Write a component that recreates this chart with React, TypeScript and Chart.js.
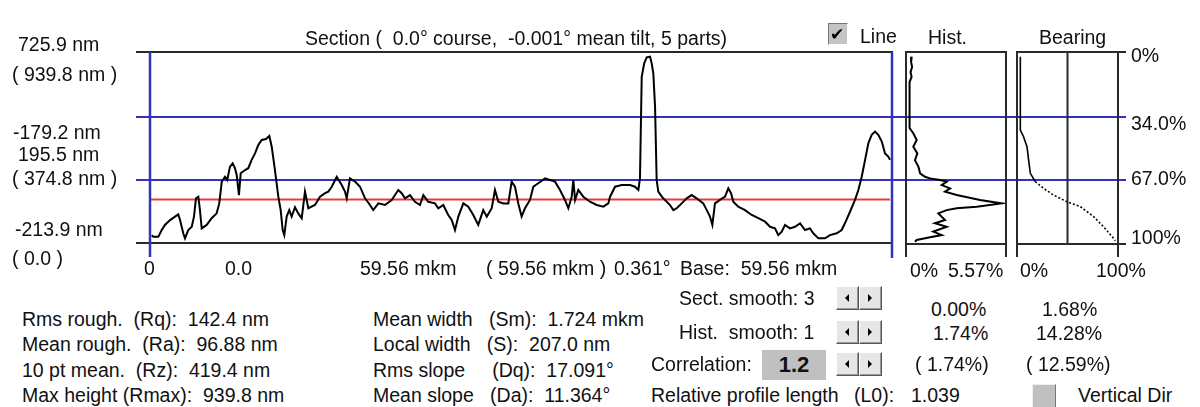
import React, { useEffect, useRef } from "react";
import { Chart, registerables } from "chart.js";
Chart.register(...registerables);

// ---------- data ----------
// profile section: position (mkm) and height (nm)
const profileX = [0.14,0.26,0.67,0.94,1.20,1.61,2.01,2.27,2.41,2.67,2.81,3.07,3.35,3.53,3.69,3.88,4.01,4.15,4.55,4.95,5.35,5.56,5.76,6.02,6.20,6.42,6.64,6.82,6.96,7.14,7.28,7.63,7.89,8.16,8.43,8.69,8.97,9.31,9.58,9.77,10.03,10.30,10.49,10.65,10.78,10.97,11.18,11.37,11.64,11.90,12.18,12.44,12.71,13.24,13.65,14.05,14.31,14.59,14.99,15.39,15.65,15.79,16.05,16.46,16.86,17.26,17.66,17.92,18.33,18.86,19.40,19.93,20.20,20.47,20.87,21.27,21.67,21.94,22.34,22.88,23.14,23.54,23.94,24.22,24.48,24.75,25.15,25.55,25.95,26.35,26.75,27.03,27.43,27.69,27.96,28.36,28.76,29.03,29.30,29.56,29.83,30.10,30.50,30.77,31.17,31.71,32.11,32.51,32.91,33.31,33.58,33.85,33.98,34.12,34.38,34.78,35.32,35.86,36.39,36.79,36.93,37.33,37.86,38.53,38.93,39.20,39.33,39.47,39.67,39.87,40.14,40.27,40.40,40.54,40.67,40.80,41.08,41.34,41.74,42.01,42.28,42.68,43.08,43.48,43.88,44.41,44.69,44.95,45.14,45.35,45.75,46.16,46.42,46.64,46.82,47.22,47.76,48.30,48.83,49.37,49.77,50.17,50.43,50.71,50.97,51.37,51.77,52.18,52.58,52.98,53.24,53.65,54.18,54.58,55.12,55.52,55.78,56.19,56.59,56.86,57.13,57.40,57.66,57.93,58.20,58.46,58.74,59.00,59.26,59.40];
const profileY = [-175,-183,-183,-150,-125,-101,-84,-73,-101,-166,-191,-150,-134,-84,6,14,-52,-142,-125,-92,-68,-19,88,112,96,162,178,154,121,22,129,145,154,195,227,268,293,298,313,260,145,14,-52,-150,-175,-84,-52,-84,-38,-68,-92,39,-43,-27,14,31,39,63,112,71,39,6,104,88,63,6,-27,-52,-19,-27,-2,47,31,6,22,-11,-27,22,-11,-19,-43,-27,-76,-101,-150,-84,-19,-35,-76,-125,-52,-84,-43,47,-11,-19,-19,88,63,-19,-84,-43,-2,63,80,104,96,88,47,-2,-43,14,96,-2,47,14,-11,-27,-35,-19,14,63,71,71,63,47,104,604,670,700,703,670,621,457,96,39,14,-2,-27,-52,-43,-19,6,22,6,-19,-52,-84,-125,-19,-2,14,55,31,-11,-35,-52,-76,-92,-109,-134,-142,-175,-158,-125,-142,-134,-117,-150,-142,-166,-191,-191,-175,-166,-150,-117,-60,-2,47,112,195,277,318,334,318,285,227,211,195];

// height histogram: height (nm) and frequency (%)
const histHeight = [703,677,652,627,603,578,352,326,293,260,227,194,162,129,112,104,96,88,71,55,39,22,-2,-19,-35,-43,-52,-68,-101,-117,-134,-158,-175,-186,-199,-208];
const histFreq = [0.19,0.15,0.21,0.12,0.18,0.06,0.06,0.28,0.48,0.28,0.52,0.38,0.58,0.68,0.97,1.27,1.86,2.25,1.96,2.45,2.15,2.84,4.22,5.50,4.02,2.84,2.25,1.76,2.15,1.56,2.25,1.46,1.96,1.27,0.48,0.38];

// bearing (Abbott) curve: height (nm) and bearing ratio (%)
const bearingHeight = [703,342,309,260,194,129,88,55,22,-11,-35,-84,-134,-191,-203];
const bearingRatio = [3.3,3.3,6.5,9.9,11.5,13.2,18.1,26.3,36.2,49.5,62.7,75.8,85.7,95.6,97.3];

const heightMin = -213.9;
const heightMax = 725.9;
const lengthMax = 59.56;
const meanLevel = 0;
const cutLevels = [34.0, 67.0]; // % depth from top
const histRange = [-0.15, 5.75];

// ---------- texts ----------
const title = "Section (  0.0° course,  -0.001° mean tilt, 5 parts)";
const leftLabels = ["725.9 nm", "( 939.8 nm )", "-179.2 nm", "195.5 nm", "( 374.8 nm )", "-213.9 nm", "( 0.0 )"];
const bottomLabels = ["0", "0.0", "59.56 mkm", "( 59.56 mkm )", "0.361°", "Base:  59.56 mkm"];
const rightLabels = ["0%", "34.0%", "67.0%", "100%"];
const histLabels = ["0%", "5.57%"];
const bearingLabels = ["0%", "100%"];
const statsCol1 = ["Rms rough.  (Rq):  142.4 nm", "Mean rough.  (Ra):  96.88 nm", "10 pt mean.  (Rz):  419.4 nm", "Max height (Rmax):  939.8 nm"];
const statsCol2 = ["Mean width   (Sm):  1.724 mkm", "Local width   (S):  207.0 nm", "Rms slope     (Dq):  17.091°", "Mean slope   (Da):  11.364°"];
const smoothLabels = ["Sect. smooth: 3", "Hist.  smooth: 1", "Correlation:"];
const correlationValue = "1.2";
const pctCol1 = ["0.00%", "1.74%", "( 1.74%)"];
const pctCol2 = ["1.68%", "14.28%", "( 12.59%)"];
const relLabel = ["Relative profile length", "(L0):", "1.039"];

const FONT = "'Liberation Sans', Arial, sans-serif";
const BLUE = "#3232b4";
const RED = "#e83c3c";
const FRAME = "#2a2a2a";
const W = 1200;
const H = 290;
const BOTTOM = 243;

function line(c: CanvasRenderingContext2D, x1: number, y1: number, x2: number, y2: number, color: string, w = 2) {
  c.save();
  c.strokeStyle = color;
  c.lineWidth = w;
  c.beginPath();
  c.moveTo(x1, y1);
  c.lineTo(x2, y2);
  c.stroke();
  c.restore();
}

const baseOptions = (padding: any, xMin: number, xMax: number): any => ({
  responsive: false,
  animation: false,
  events: [],
  layout: { padding },
  scales: {
    x: { type: "linear", display: false, min: xMin, max: xMax },
    y: { type: "linear", display: false, min: heightMin, max: heightMax },
  },
  plugins: { legend: { display: false }, tooltip: { enabled: false } },
});

const Txt = ({ x, y, s, size = 19.5, bold = false }: any) => (
  <div
    style={{
      position: "absolute",
      left: x,
      top: y,
      transform: "translateY(-50%)",
      whiteSpace: "pre",
      fontFamily: FONT,
      fontSize: size,
      fontWeight: bold ? 700 : 400,
      lineHeight: "22px",
      color: "#111",
    }}
  >
    {s}
  </div>
);

const Spin = ({ x, y, dir }: any) => (
  <div
    style={{
      position: "absolute",
      left: x,
      top: y,
      width: 21,
      height: 22,
      background: "#e6e6e6",
      borderStyle: "solid",
      borderWidth: 1,
      borderColor: "#fff #555 #555 #fff",
      boxShadow: "inset -1px -1px 0 #999",
    }}
  >
    <div
      style={{
        position: "absolute",
        left: 8,
        top: 7,
        width: 0,
        height: 0,
        borderTop: "4px solid transparent",
        borderBottom: "4px solid transparent",
        borderLeft: dir > 0 ? "4px solid #000" : undefined,
        borderRight: dir < 0 ? "4px solid #000" : undefined,
      }}
    />
  </div>
);

export default function App() {
  const pRef = useRef<HTMLCanvasElement>(null);
  const hRef = useRef<HTMLCanvasElement>(null);
  const bRef = useRef<HTMLCanvasElement>(null);

  useEffect(() => {
    document.body.style.margin = "0";
    const charts: Chart[] = [];

    const profilePlugin = {
      id: "profileFrame",
      beforeDatasetsDraw(chart: any) {
        const c = chart.ctx;
        const { left, right } = chart.chartArea;
        const ys = chart.scales.y;
        const ym = ys.getPixelForValue(meanLevel);
        line(c, left, ym, right - 2, ym, RED);
        cutLevels.forEach((p) => {
          const v = heightMax - (p / 100) * (heightMax - heightMin);
          const y = Math.round(ys.getPixelForValue(v));
          line(c, 136, y, 1126, y, BLUE);
        });
      },
      afterDatasetsDraw(chart: any) {
        const c = chart.ctx;
        const { left, right, top, bottom } = chart.chartArea;
        line(c, 136, top, right + 1, top, FRAME);
        line(c, 136, bottom, right - 1, bottom, FRAME);
        line(c, left, top, left, 257, BLUE, 2.5);
        line(c, right, top, right, 258, BLUE, 2.5);
      },
    };

    const histPlugin = {
      id: "histFrame",
      afterDatasetsDraw(chart: any) {
        const c = chart.ctx;
        const { left, right, top, bottom } = chart.chartArea;
        line(c, left, top, right, top, FRAME);
        line(c, left, bottom + 1, right, bottom + 1, FRAME);
        line(c, left, top - 1, left, 257, FRAME);
        line(c, right, top - 1, right, 257, FRAME);
      },
    };

    const bearingPlugin = {
      id: "bearingFrame",
      afterDatasetsDraw(chart: any) {
        const c = chart.ctx;
        const { left, right, top, bottom } = chart.chartArea;
        const xm = chart.scales.x.getPixelForValue(50);
        line(c, left, top, 1126, top, FRAME);
        line(c, left, bottom + 1, 1126, bottom + 1, FRAME);
        line(c, left, top - 1, left, 257, FRAME);
        line(c, right, top - 1, right, 257, FRAME);
        line(c, xm, top, xm, bottom, FRAME);
      },
    };

    if (pRef.current) {
      charts.push(
        new Chart(pRef.current, {
          type: "scatter",
          data: {
            datasets: [
              {
                data: profileX.map((x, i) => ({ x, y: profileY[i] })),
                showLine: true,
                borderColor: "#000",
                borderWidth: 2,
                pointRadius: 0,
                tension: 0,
              },
            ],
          },
          options: baseOptions({ left: 150, right: W - 892, top: 52, bottom: H - BOTTOM }, 0, lengthMax),
          plugins: [profilePlugin],
        } as any)
      );
    }
    if (hRef.current) {
      charts.push(
        new Chart(hRef.current, {
          type: "scatter",
          data: {
            datasets: [
              {
                data: histFreq.map((f, i) => ({ x: f, y: histHeight[i] })),
                showLine: true,
                borderColor: "#000",
                borderWidth: 2,
                pointRadius: 0,
                tension: 0,
              },
            ],
          },
          options: baseOptions({ left: 906, right: W - 1006, top: 52, bottom: H - BOTTOM }, histRange[0], histRange[1]),
          plugins: [histPlugin],
        } as any)
      );
    }
    if (bRef.current) {
      charts.push(
        new Chart(bRef.current, {
          type: "scatter",
          data: {
            datasets: [
              {
                data: bearingRatio.map((r, i) => ({ x: r, y: bearingHeight[i] })),
                showLine: true,
                borderColor: "#000",
                borderWidth: 1.6,
                pointRadius: 0,
                tension: 0,
                segment: {
                  borderDash: (ctx: any) => (ctx.p0.parsed.y < 110 ? [2, 2] : undefined),
                },
              },
            ],
          },
          options: baseOptions({ left: 1017, right: W - 1118, top: 52, bottom: H - BOTTOM }, 0, 100),
          plugins: [bearingPlugin],
        } as any)
      );
    }
    return () => charts.forEach((c) => c.destroy());
  }, []);

  const leftPos = [[18, 44], [12, 74], [13, 132], [18, 154], [12, 178], [15, 229], [12, 258]];
  const bottomX = [144, 225, 360, 486, 614, 680];
  const rightY = [55, 123, 178, 237];
  const rowY = [319, 344, 370, 395];
  const smoothY = [298, 332, 364];
  const smoothX = [679, 679, 651];
  const pctY = [309, 333, 364];
  const pct1X = [931, 933, 915];
  const pct2X = [1042, 1036, 1026];

  return (
    <div style={{ position: "absolute", left: 0, top: 0, width: W, height: 407, background: "#fff", overflow: "hidden" }}>
      <canvas ref={pRef} width={W} height={H} style={{ position: "absolute", left: 0, top: 0 }} />
      <canvas ref={hRef} width={W} height={H} style={{ position: "absolute", left: 0, top: 0 }} />
      <canvas ref={bRef} width={W} height={H} style={{ position: "absolute", left: 0, top: 0 }} />

      <Txt x={305} y={38} s={title} />
      <div
        style={{
          position: "absolute",
          left: 828,
          top: 23,
          width: 18,
          height: 20,
          background: "#c4c4c4",
          borderStyle: "solid",
          borderWidth: 1,
          borderColor: "#777 #fff #fff #777",
        }}
      >
        <div style={{ position: "absolute", left: 1, top: -1, fontFamily: "'DejaVu Sans'", fontSize: 17, lineHeight: "22px", color: "#000" }}>✔</div>
      </div>
      <Txt x={860} y={36} s="Line" />
      <Txt x={928} y={37} s="Hist." />
      <Txt x={1039} y={37} s="Bearing" />

      {leftLabels.map((s, i) => (
        <Txt key={"l" + i} x={leftPos[i][0]} y={leftPos[i][1]} s={s} />
      ))}
      {bottomLabels.map((s, i) => (
        <Txt key={"b" + i} x={bottomX[i]} y={268} s={s} />
      ))}
      {rightLabels.map((s, i) => (
        <Txt key={"r" + i} x={1131} y={rightY[i]} s={s} />
      ))}
      <Txt x={910} y={270} s={histLabels[0]} />
      <Txt x={948} y={270} s={histLabels[1]} />
      <Txt x={1020} y={270} s={bearingLabels[0]} />
      <Txt x={1096} y={270} s={bearingLabels[1]} />

      {statsCol1.map((s, i) => (
        <Txt key={"c1" + i} x={22} y={rowY[i]} s={s} />
      ))}
      {statsCol2.map((s, i) => (
        <Txt key={"c2" + i} x={373} y={rowY[i]} s={s} />
      ))}
      {smoothLabels.map((s, i) => (
        <Txt key={"sm" + i} x={smoothX[i]} y={smoothY[i]} s={s} />
      ))}
      {smoothY.map((y, i) => (
        <React.Fragment key={"sp" + i}>
          <Spin x={836} y={y - 12} dir={-1} />
          <Spin x={859} y={y - 12} dir={1} />
        </React.Fragment>
      ))}
      <div
        style={{
          position: "absolute",
          left: 762,
          top: 350,
          width: 64,
          height: 30,
          background: "#c0c0c0",
          display: "flex",
          alignItems: "center",
          justifyContent: "center",
          fontFamily: FONT,
          fontWeight: 700,
          fontSize: 22,
          color: "#111",
        }}
      >
        {correlationValue}
      </div>
      {pctCol1.map((s, i) => (
        <Txt key={"p1" + i} x={pct1X[i]} y={pctY[i]} s={s} />
      ))}
      {pctCol2.map((s, i) => (
        <Txt key={"p2" + i} x={pct2X[i]} y={pctY[i]} s={s} />
      ))}
      <Txt x={651} y={395} s={relLabel[0]} />
      <Txt x={854} y={395} s={relLabel[1]} />
      <Txt x={911} y={395} s={relLabel[2]} />
      <div
        style={{
          position: "absolute",
          left: 1032,
          top: 384,
          width: 22,
          height: 22,
          background: "#c0c0c0",
          borderStyle: "solid",
          borderWidth: 1,
          borderColor: "#eee #777 #777 #eee",
        }}
      />
      <Txt x={1078} y={395} s="Vertical Dir" />
    </div>
  );
}
